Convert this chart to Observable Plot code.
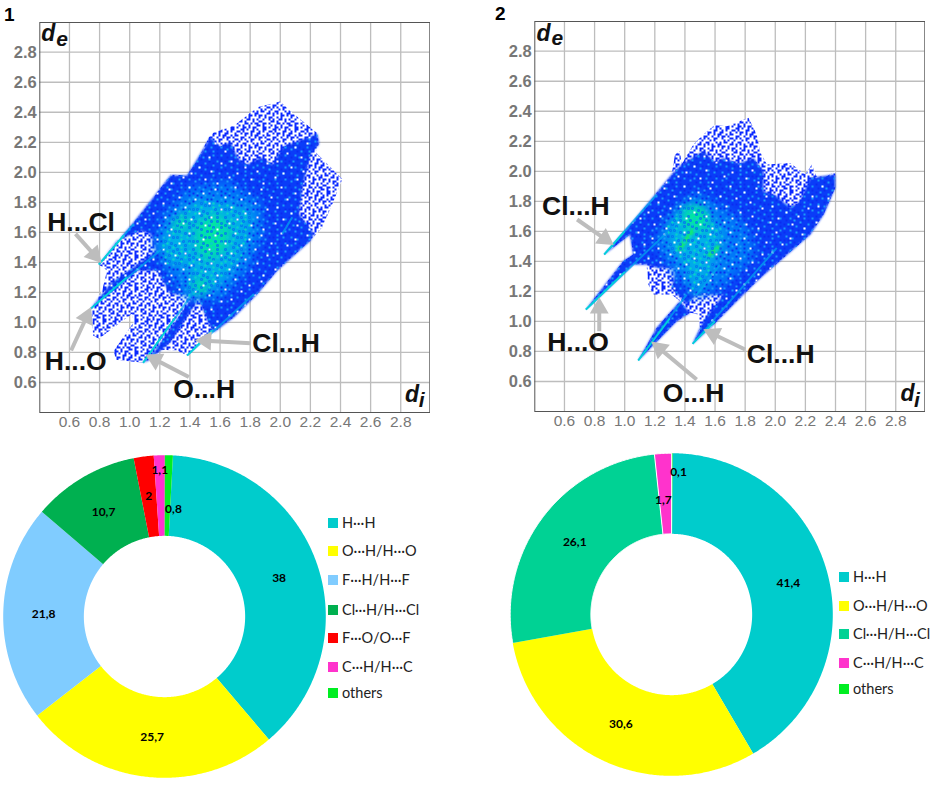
<!DOCTYPE html>
<html>
<head>
<meta charset="utf-8">
<script src="https://cdn.jsdelivr.net/npm/d3@7"></script>
<script src="https://cdn.jsdelivr.net/npm/@observablehq/plot@0.6"></script>
<style>
  body { margin: 0; background: white; }
  #chart { position: relative; width: 941px; height: 786px; overflow: hidden; }
  #chart svg, #chart div { position: absolute; }
  .panel { font: bold 19px "Liberation Sans"; }
  .key { font: 14.5px Lato; color: #222; white-space: nowrap; }
  .swatch { width: 10px; height: 10px; }
</style>
</head>
<body>
<div id="chart"></div>
<script>
// data
const xTicks = [0.6, 0.8, 1.0, 1.2, 1.4, 1.6, 1.8, 2.0, 2.2, 2.4, 2.6, 2.8];
const yTicks = [0.6, 0.8, 1.0, 1.2, 1.4, 1.6, 1.8, 2.0, 2.2, 2.4, 2.6, 2.8];

// fingerprint 1, regions as [di, de]
const outer1 = [[.795,1.386],[1.027,1.668],[1.16,1.834],[1.271,1.985],[1.382,1.978],[1.448,2.078],[1.526,2.234],[1.559,2.267],[1.692,2.311],[1.847,2.433],[1.999,2.471],[2.091,2.389],[2.246,2.26],[2.257,2.189],[2.235,2.134],[2.412,1.956],[2.356,1.812],[2.279,1.634],[2.201,1.546],[1.98,1.346],[1.847,1.19],[1.692,1.035],[1.47,.88],[1.382,.78],[1.315,.813],[1.205,.818],[1.089,.731],[.906,.751],[.895,.813],[1.027,1.002],[1.016,1.057],[.795,.891],[.757,.913],[.751,1.035],[.735,1.084],[.773,1.135],[.817,1.213],[.85,1.346]];
const dense1 = [[.795,1.386],[1.027,1.668],[1.271,1.978],[1.382,1.978],[1.47,2.123],[1.537,2.234],[1.6,2.17],[1.67,2.2],[1.72,2.09],[1.78,2.05],[1.87,2.1],[1.95,2.05],[2.02,2.17],[2.1,2.2],[2.246,2.256],[2.257,2.189],[2.201,2.123],[2.146,1.901],[2.124,1.723],[2.223,1.59],[2.201,1.546],[1.98,1.346],[1.847,1.19],[1.692,1.035],[1.559,.935],[1.515,1.013],[1.448,1.19],[1.271,1.19],[1.182,1.346],[1.05,1.346],[.828,1.168],[.74,1.09],[.872,1.257],[1.182,1.479],[1.138,1.59],[1.072,1.612],[.917,1.546]];
const band1 = [[1.089,.731],[1.16,.8],[1.23,.9],[1.382,1.12],[1.43,1.19],[1.44,1.13],[1.27,.87],[1.13,.75]];
const mid1 = [[1.16,1.501],[1.205,1.701],[1.382,1.901],[1.648,1.945],[1.869,1.812],[1.891,1.59],[1.803,1.368],[1.603,1.146],[1.47,1.146],[1.338,1.19],[1.249,1.346]];
const warm1 = [[1.205,1.523],[1.293,1.701],[1.448,1.812],[1.692,1.79],[1.825,1.723],[1.736,1.412],[1.581,1.235],[1.47,1.19],[1.382,1.168],[1.404,1.368],[1.249,1.39]];
const hot1 = [[1.448,1.657],[1.581,1.723],[1.67,1.634],[1.625,1.479],[1.515,1.412],[1.448,1.501]];
const hot1b = [[1.415,1.235],[1.47,1.301],[1.515,1.257],[1.47,1.179]];
const hot1c = [[1.29,1.63],[1.34,1.71],[1.39,1.69],[1.36,1.62]];
const spikes1 = [[.795,1.386,1.027,1.657],[.74,1.091,1.227,1.501],[1.089,.731,1.448,1.235],[1.382,.78,1.825,1.19],[2.013,1.59,2.08,1.701]];
const tips1 = [[.795,1.386,.96,1.58],[.74,1.091,.98,1.3],[1.089,.731,1.3,1.03],[1.382,.78,1.55,.95]];
const heat1 = [];

// fingerprint 2
const outer2 = [[.864,1.446],[1.057,1.668],[1.212,1.856],[1.312,1.978],[1.334,2.112],[1.367,2.134],[1.378,2.045],[1.456,2.178],[1.522,2.245],[1.6,2.311],[1.678,2.3],[1.822,2.356],[1.877,2.245],[1.899,2.134],[1.944,2.045],[2.099,2.056],[2.199,1.978],[2.243,2.045],[2.287,1.934],[2.398,2.001],[2.398,1.89],[2.321,1.712],[2.232,1.579],[2.055,1.424],[1.877,1.268],[1.722,1.113],[1.567,.957],[1.451,.851],[1.5,.957],[1.489,1.046],[1.434,1.057],[1.345,1.002],[1.09,.74],[1.212,.957],[1.367,1.135],[1.312,1.179],[1.19,1.179],[1.157,1.246],[1.145,1.379],[1.057,1.379],[.742,1.079],[.99,1.401],[1.057,1.446],[1.035,1.579]];
const dense2 = [[.864,1.446],[1.057,1.668],[1.312,1.978],[1.378,2.045],[1.45,2.09],[1.522,2.134],[1.6,2.06],[1.655,2.089],[1.76,2.05],[1.855,2.089],[1.921,2.001],[1.921,1.867],[2.0,1.84],[2.099,1.757],[2.165,1.801],[2.232,1.956],[2.398,1.978],[2.398,1.89],[2.321,1.712],[2.232,1.579],[2.055,1.424],[1.877,1.268],[1.722,1.113],[1.567,.957],[1.451,.851],[1.522,1.0],[1.655,1.179],[1.478,1.179],[1.412,1.113],[1.312,1.224],[1.345,1.357],[1.212,1.357],[1.145,1.379],[1.057,1.379],[.742,1.079],[.99,1.401],[1.057,1.446],[1.035,1.579]];
const band2 = [[1.09,.74],[1.212,.957],[1.367,1.135],[1.434,1.057],[1.345,1.002]];
const mid2 = [[1.19,1.535],[1.345,1.757],[1.478,1.867],[1.655,1.757],[1.811,1.646],[1.877,1.446],[1.655,1.224],[1.478,1.157],[1.345,1.29],[1.256,1.424]];
const warm2 = [[1.279,1.646],[1.411,1.779],[1.522,1.757],[1.655,1.601],[1.633,1.468],[1.522,1.246],[1.456,1.179],[1.411,1.357],[1.301,1.49]];
const hot2 = [[1.39,1.75],[1.52,1.77],[1.56,1.62],[1.41,1.6]];
const spikes2 = [[.864,1.446,1.212,1.845],[.742,1.079,1.278,1.59],[1.09,.74,1.411,1.179],[1.451,.851,2.01,1.49],[1.478,1.179,1.633,1.379]];
const tips2 = [[.864,1.446,1,1.6],[.742,1.079,1,1.33],[1.09,.74,1.3,1.02],[1.451,.851,1.6,1]];
const heat2 = [[1.356,1.472,1.456,1.612],[1.556,1.435,1.629,1.501]];

// annotations: text, di, de
const labels1 = [["H...Cl",.452,1.612],["H...O",.436,.68],["O...H",1.289,.498],["Cl...H",1.814,.802]];
const labels2 = [["Cl...H",.451,1.712],["H...O",.485,.802],["O...H",1.252,.465],["Cl...H",1.811,.724]];
const arrows1 = [[.64,1.59,.788,1.424],[.611,.813,.728,1.068],[1.393,.636,1.138,.769],[1.803,.862,1.47,.88]];
const arrows2 = [[.684,1.679,.897,1.53],[.831,.935,.831,1.124],[1.478,.613,1.205,.842],[1.8,.813,1.556,.931]];
const axisNames1 = [["d",.412,2.873,23],["e",.512,2.844,21],["d",2.828,.469,23],["i",2.92,.436,21]];
const axisNames2 = [["d",.414,2.866,23],["e",.514,2.84,21],["d",2.831,.469,23],["i",2.922,.429,21]];

// donuts
const names1 = ["H···H", "O···H/H···O", "F···H/H···F", "Cl···H/H···Cl", "F···O/O···F", "C···H/H···C", "others"];
const values1 = [38, 25.7, 21.8, 10.7, 2, 1.1, 0.8];
const valueText1 = ["38", "25,7", "21,8", "10,7", "2", "1,1", "0,8"];
const colors1 = ["#00cccc", "#ffff00", "#80ccff", "#00b050", "#ff0000", "#ff33cc", "#00ee22"];
const labelRadius1 = [.75, .75, .75, .75, .75, .91, .67];
const labelShift1 = [0, 0, 0, 0, 0, 0, 3.2];
const start1 = 3;

const names2 = ["H···H", "O···H/H···O", "Cl···H/H···Cl", "C···H/H···C", "others"];
const values2 = [41.4, 30.6, 26.1, 1.7, 0.1];
const valueText2 = ["41,4", "30,6", "26,1", "1,7", "0,1"];
const colors2 = ["#00cccc", "#ffff00", "#00d294", "#ff33cc", "#00ee22"];
const labelRadius2 = [.75, .75, .75, .71, .885];
const labelShift2 = [0, 0, 0, -1, 2.6];
const start2 = 0.4;

// speckle tiles, one character per small square
const tileSparse = [
  "x..xx...xx.x..x.", ".x.x..xx.x...xx.", "xx...x..x.xx.x..", "x..x.xx...x..x.x",
  ".xx.x...xx..x..x", ".x...xx.x.x..xx.", "..x.x..x...x.x..", "x.xx..x..xx...x.",
  "x....xx.x.x.x..x", ".xx.x...x...xx.x", ".x..x.xx..x.x...", "x..x..x.x..xx.x.",
  ".xx....xx.x...x.", "x..xx.x...xx.x.x", "xx.x...x.x..x...", "...xx.x..xx.x.xx"];
const tileGrain = [
  "x.c.....x...c...", "..x...c...x...x.", "c...x.....c.....", "...c...x.x....c.",
  "x.....c.....x...", "....x.....c...x.", ".c....x.x....c..", "....c.....c.....",
  "x.x........x..x.", "...c.x...c....c.", ".c.....x....x...", "....x.c...c.....",
  "x.......x...x...", "...c..x...c...c.", ".x...c...x..x...", "....x...c.....x."];
const tileHoles = [
  ".......................", "..w....................", "...............w.......", ".......................",
  ".........w.............", ".......................", "....................w..", ".....w.................",
  ".......................", "............w..........", ".......................", "w......................",
  "..................w....", ".......................", ".......w...............", ".......................",
  ".............w.........", "...w...................", ".......................", "......................w",
  "..........w............", ".......................", "................w......"];


// speckled fills
const chart = d3.select('#chart');
const defs = chart.append('svg').attr('width', 0).attr('height', 0).append('defs');
makeTile('sparse', tileSparse, {x: '#0a28ff', '.': 'white'});
makeTile('grain', tileGrain, {x: '#0a2cf0', c: '#1c9cf8', '.': 'none'});
makeTile('spark', tileGrain, {x: '#0090f0', c: '#00dcc0', '.': 'none'});
makeTile('holes', tileHoles, {w: 'white', '.': 'none'});

const levels = {
  dense: {fill: '#0a3cf8', blur: 1.2},
  mid: {fill: '#0078f8', blur: 5},
  warm: {fill: '#00b0e8', blur: 6},
  hot: {fill: '#00e8a0', blur: 4}
};


// plots
addFingerprint({
  left: 0, top: 0,
  outer: outer1,
  regions: [[dense1, 'dense'], [band1, 'dense'], [mid1, 'mid'], [warm1, 'warm'], [hot1, 'hot'], [hot1b, 'hot'], [hot1c, 'hot']],
  textured: [dense1, band1], warm: warm1,
  spikes: spikes1, tips: tips1, heat: heat1, labels: labels1, arrows: arrows1, axisNames: axisNames1
});
addFingerprint({
  left: 495.4, top: -1.3,
  outer: outer2,
  regions: [[dense2, 'dense'], [band2, 'dense'], [mid2, 'mid'], [warm2, 'warm'], [hot2, 'hot']],
  textured: [dense2, band2], warm: warm2,
  spikes: spikes2, tips: tips2, heat: heat2, labels: labels2, arrows: arrows2, axisNames: axisNames2
});

addDonut({cx: 163.7, cy: 615.7, names: names1, values: values1, text: valueText1, colors: colors1,
  radius: labelRadius1, shift: labelShift1, start: start1, borders: []});
addDonut({cx: 671, cy: 614, names: names2, values: values2, text: valueText2, colors: colors2,
  radius: labelRadius2, shift: labelShift2, start: start2, borders: ["Cl···H/H···Cl", "C···H/H···C"]});

addLegend(names1, colors1, 328, [523, 551.3, 580, 609.5, 638, 666.5, 693]);
addLegend(names2, colors2, 839, [577.3, 605.7, 634.3, 662.7, 689]);

chart.append('div').attr('class', 'panel').style('left', '4px').style('top', '4px').text('1');
chart.append('div').attr('class', 'panel').style('left', '495px').style('top', '3px').text('2');


// helpers
function makeTile(id, rows, palette) {
  const cell = 2;
  const pattern = defs.append('pattern')
    .attr('id', id)
    .attr('patternUnits', 'userSpaceOnUse')
    .attr('width', rows[0].length * cell)
    .attr('height', rows.length * cell);
  rows.forEach((row, i) => [...row].forEach((c, j) => {
    pattern.append('rect')
      .attr('x', j * cell).attr('y', i * cell)
      .attr('width', cell).attr('height', cell)
      .attr('fill', palette[c]);
  }));
}

function addFingerprint({left, top, outer, regions, textured, warm, spikes, tips, heat, labels, arrows, axisNames}) {
  const gray = '#bdbdbd';
  const ends = {x1: d => d[0], y1: d => d[1], x2: d => d[2], y2: d => d[3]};
  const patch = (points, fill) => Plot.line(points, {x: d => d[0], y: d => d[1], fill, stroke: 'none'});
  const fig = Plot.plot({
    width: 430,
    height: 430,
    marginLeft: 39.3,
    marginRight: 0.7,
    marginTop: 22,
    marginBottom: 18,
    x: {domain: [0.403, 2.993]},
    y: {domain: [0.4, 2.998]},
    style: {fontFamily: 'Liberation Sans', background: 'transparent'},
    marks: [
      Plot.gridX(xTicks, {stroke: gray, strokeOpacity: 1, strokeWidth: 1.3}),
      Plot.gridY(yTicks, {stroke: gray, strokeOpacity: 1, strokeWidth: 1.3}),
      Plot.axisX({ticks: xTicks, tickFormat: '.1f', tickSize: 0, tickPadding: 3, fontSize: 15.5, fill: '#777', label: null}),
      Plot.axisY({ticks: yTicks, tickFormat: '.1f', tickSize: 0, tickPadding: 3, fontSize: 16.5, fontWeight: 'bold', fill: '#777', label: null}),
      Plot.frame({stroke: '#555', strokeWidth: 1}),
      patch(outer, 'url(#sparse)'),
      ...regions.map(([points, level]) => Plot.line(points, {
        x: d => d[0], y: d => d[1], stroke: 'none',
        fill: levels[level].fill,
        imageFilter: `blur(${levels[level].blur}px)`
      })),
      Plot.link(heat, {...ends, stroke: '#10e878', strokeWidth: 4.5, imageFilter: 'blur(1px)'}),
      ...textured.map(points => patch(points, 'url(#grain)')),
      patch(warm, 'url(#spark)'),
      patch(textured[0], 'url(#holes)'),
      Plot.link(spikes, {...ends, stroke: '#00a8ec', strokeWidth: 2, strokeOpacity: .7, imageFilter: 'blur(.5px)'}),
      Plot.link(tips, {...ends, stroke: '#00d4d8', strokeWidth: 1.6}),
      Plot.link(arrows, {...ends, stroke: gray, strokeWidth: 4}),
      Plot.dot(arrows, {
        x: d => d[2] - headBack(d, 0), y: d => d[3] - headBack(d, 1),
        symbol: 'triangle', r: 7, fill: gray, stroke: 'none',
        rotate: d => Math.atan2(d[2] - d[0], d[3] - d[1]) * 180 / Math.PI
      }),
      Plot.text(labels, {x: d => d[1], y: d => d[2], text: d => d[0], textAnchor: 'start', lineAnchor: 'bottom', fontSize: 26.5, fontWeight: 'bold', fill: '#111'}),
      Plot.text(axisNames, {x: d => d[1], y: d => d[2], text: d => d[0], fontSize: d => d[3], textAnchor: 'start', lineAnchor: 'bottom', fontWeight: 'bold', fontStyle: 'italic', fill: '#111'})
    ]
  });
  d3.select(fig).style('left', `${left}px`).style('top', `${top}px`);
  chart.node().append(fig);
}

// step back from the arrow tip so the triangle's point lands on it
function headBack(d, axis) {
  const dx = d[2] - d[0];
  const dy = d[3] - d[1];
  return 0.035 * (axis ? dy : dx) / Math.hypot(dx, dy);
}

function addDonut({cx, cy, names, values, text, colors, radius, shift, start, borders}) {
  const total = d3.sum(values);
  const rings = [];
  const notes = [];
  let angle = start;
  values.forEach((v, i) => {
    const end = angle + v / total * 360;
    const arc = d3.range(angle, end, .5).concat(end);
    for (const a of arc) rings.push({name: names[i], ...polar(a, 1)});
    for (const a of arc.reverse()) rings.push({name: names[i], ...polar(a, .5)});
    notes.push({text: text[i], ...polar((angle + end) / 2 + shift[i], radius[i])});
    angle = end;
  });

  const size = 324;
  const fig = Plot.plot({
    width: size,
    height: size,
    margin: 0,
    x: {domain: [-162 / 161.3, 162 / 161.3], axis: null},
    y: {domain: [-162 / 161.3, 162 / 161.3], axis: null},
    color: {domain: names, range: colors},
    style: {background: 'transparent'},
    marks: [
      Plot.line(rings, {x: 'x', y: 'y', z: 'name', fill: 'name', stroke: 'none'}),
      Plot.line(rings.filter(d => borders.includes(d.name)), {x: 'x', y: 'y', z: 'name', stroke: 'white', strokeWidth: 1}),
      Plot.text(notes, {x: 'x', y: 'y', text: 'text', fontSize: 12, fontWeight: 'bold', fontFamily: 'Lato', fill: 'black'})
    ]
  });
  d3.select(fig).style('left', `${cx - size / 2}px`).style('top', `${cy - size / 2}px`);
  chart.node().append(fig);
}

function polar(degrees, r) {
  const a = degrees * Math.PI / 180;
  return {x: r * Math.sin(a), y: r * Math.cos(a)};
}

function addLegend(names, colors, left, rows) {
  names.forEach((name, i) => {
    chart.append('div').attr('class', 'swatch')
      .style('left', `${left}px`).style('top', `${rows[i] - 5}px`).style('background', colors[i]);
    chart.append('div').attr('class', 'key')
      .style('left', `${left + 14}px`).style('top', `${rows[i] - 9}px`).text(name);
  });
}
</script>
</body>
</html>
